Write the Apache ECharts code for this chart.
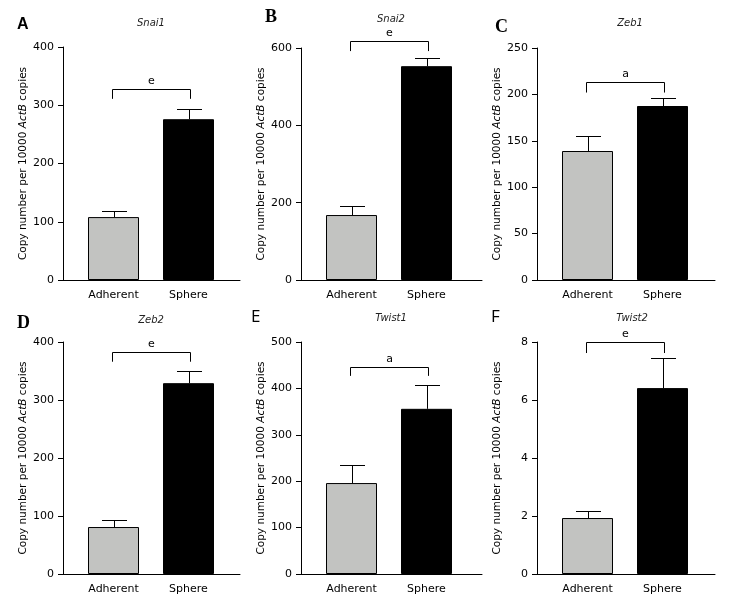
<!DOCTYPE html>
<html>
<head>
<meta charset="utf-8">
<script src="https://cdn.jsdelivr.net/npm/echarts@6/dist/echarts.min.js"></script>
<style>
html,body{margin:0;padding:0;background:#fff;}
#main{width:732px;height:604px;}
</style>
</head>
<body>
<div id="main"></div>
<script>
// values
var genes = ['Snai1','Snai2','Zeb1','Zeb2','Twist1','Twist2'];
var panelLetters = ['A','B','C','D','E','F'];
var groups = ['Adherent','Sphere'];
var adherentMean = [108, 168, 139, 81, 196, 1.93];
var adherentErr  = [10, 23, 16, 12, 39, 0.24];
var sphereMean   = [276, 553, 187.5, 329, 356, 6.41];
var sphereErr    = [17, 21, 8.5, 21, 51, 1.04];
var yMax  = [400, 600, 250, 400, 500, 8];
var yStep = [100, 200, 50, 100, 100, 2];
var sigLabel    = ['e','e','a','e','a','e'];
var bracketTop  = [328, 618, 213, 383, 446, 8.0];
var bracketLeg  = [311, 592, 202, 366, 427, 7.62];

// layout of the 6 panels (pixels)
var gridBox = [
    {left:63,  top:47,  width:177, height:233},
    {left:301, top:48,  width:181, height:232},
    {left:537, top:48,  width:178, height:232},
    {left:63,  top:342, width:177, height:232},
    {left:301, top:342, width:181, height:232},
    {left:537, top:342, width:178, height:232}
];
var titlePos  = [[151,18],[391,14],[630,18],[151,315],[391,313],[632,313]];
var letterPos = [[17,25],[265,17],[495,27],[17,323],[251,317],[491,317]];
var letterFont = [
    'bold 16px "Liberation Sans", Arial, sans-serif',
    'bold 18px "Liberation Serif", "Times New Roman", serif',
    'bold 18px "Liberation Serif", "Times New Roman", serif',
    'bold 18px "Liberation Serif", "Times New Roman", serif',
    '17px "Open Sans", "DejaVu Sans", sans-serif',
    '17px "Open Sans", "DejaVu Sans", sans-serif'
];

var FONT = '"DejaVu Sans", Verdana, sans-serif';
var barPx = 51, stepPx = 75, firstPx = 50.5;

var grids = [], xAxes = [], yAxes = [], series = [], titles = [], graphics = [];

for (var i = 0; i < genes.length; i++) {
    var g = gridBox[i];
    grids.push({left:g.left, top:g.top, width:g.width, height:g.height, containLabel:false});

    xAxes.push({
        gridIndex:i,
        type:'value',
        min: -firstPx/stepPx,
        max: (g.width - firstPx)/stepPx,
        axisLine:{onZero:false, lineStyle:{color:'#000', width:1}},
        axisTick:{show:false},
        splitLine:{show:false},
        axisLabel:{
            customValues:[0,1],
            formatter:function(v){ return groups[Math.round(v)]; },
            color:'#000', fontFamily:FONT, fontSize:11, margin:10
        }
    });

    yAxes.push({
        gridIndex:i,
        type:'value',
        min:0, max:yMax[i], interval:yStep[i],
        axisLine:{show:true, onZero:false, lineStyle:{color:'#000', width:1}},
        axisTick:{show:true, length:5, lineStyle:{color:'#000'}},
        splitLine:{show:false},
        axisLabel:{color:'#000', fontFamily:FONT, fontSize:11, margin:9},
        name:'{n|Copy number per 10000 }{i|ActB}{n| copies}',
        nameLocation:'middle',
        nameRotate:90,
        nameGap:34,
        nameTextStyle:{
            rich:{
                n:{fontFamily:FONT, fontSize:10.5, color:'#000'},
                i:{fontFamily:FONT, fontSize:10.5, fontStyle:'italic', color:'#000'}
            }
        }
    });

    series.push({
        type:'bar',
        xAxisIndex:i, yAxisIndex:i,
        barWidth:barPx,
        data:[
            {value:[0, adherentMean[i]], itemStyle:{color:'#c2c3c1'}},
            {value:[1, sphereMean[i]], itemStyle:{color:'#000'}}
        ],
        itemStyle:{borderColor:'#000', borderWidth:1},
        animation:false,
        silent:true
    });

    // error bars (upper whisker only)
    series.push({
        type:'custom',
        xAxisIndex:i, yAxisIndex:i,
        data:[[0, adherentMean[i], adherentErr[i]], [1, sphereMean[i], sphereErr[i]]],
        encode:{x:0, y:1},
        z:5,
        animation:false,
        silent:true,
        renderItem:function(params, api){
            var x = api.value(0), m = api.value(1), e = api.value(2);
            var p0 = api.coord([x, m]), p1 = api.coord([x, m + e]);
            var cx = Math.round(p0[0]) + 0.5, y1 = Math.round(p1[1]) + 0.5;
            return {type:'group', children:[
                {type:'line', shape:{x1:cx, y1:p0[1], x2:cx, y2:y1}, style:{stroke:'#000', lineWidth:1}},
                {type:'line', shape:{x1:cx - 12.5, y1:y1, x2:cx + 12.5, y2:y1}, style:{stroke:'#000', lineWidth:1}}
            ]};
        }
    });

    // significance bracket
    series.push({
        type:'custom',
        xAxisIndex:i, yAxisIndex:i,
        data:[[0, 1, bracketTop[i], bracketLeg[i]]],
        encode:{x:0, y:2},
        z:5,
        clip:false,
        animation:false,
        silent:true,
        renderItem:(function(lbl){
            return function(params, api){
                var xa = api.value(0), xb = api.value(1), top = api.value(2), leg = api.value(3);
                var a0 = api.coord([xa, leg]), a1 = api.coord([xa, top]);
                var b1 = api.coord([xb, top]), b0 = api.coord([xb, leg]);
                var ty = Math.round(a1[1]) + 0.5;
                var ax = Math.round(a0[0]) - 1.5, bx = Math.round(b0[0]) + 1.5;
                return {type:'group', children:[
                    {type:'polyline', shape:{points:[[ax, a0[1]], [ax, ty], [bx, ty], [bx, b0[1]]]},
                     style:{stroke:'#000', lineWidth:1, fill:null}},
                    {type:'text', x:(ax + bx)/2, y:ty - 3,
                     style:{text:lbl, fill:'#000', font:'11px ' + FONT, align:'center', verticalAlign:'bottom'}}
                ]};
            };
        })(sigLabel[i])
    });

    titles.push({
        text:genes[i],
        left:titlePos[i][0], top:titlePos[i][1],
        padding:0,
        textAlign:'center',
        textStyle:{fontFamily:FONT, fontSize:10, fontStyle:'italic', fontWeight:'normal', color:'#222'}
    });

    graphics.push({
        type:'text',
        x:letterPos[i][0], y:letterPos[i][1],
        style:{text:panelLetters[i], font:letterFont[i], fill:'#000', align:'left', verticalAlign:'middle'}
    });
}

var chart = echarts.init(document.getElementById('main'), null, {renderer:'canvas'});
chart.setOption({
    backgroundColor:'#fff',
    animation:false,
    title:titles,
    grid:grids,
    xAxis:xAxes,
    yAxis:yAxes,
    series:series,
    graphic:graphics
});
</script>
</body>
</html>
